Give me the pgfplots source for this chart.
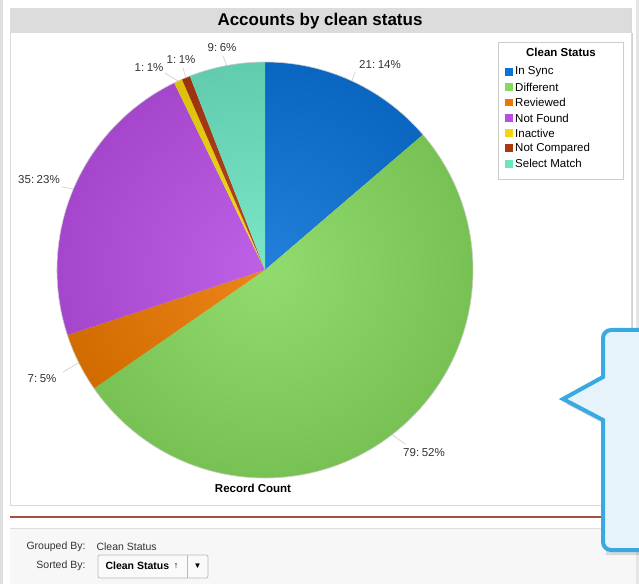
\documentclass[border=0pt]{standalone}
\usepackage{pgfplots}
\pgfplotsset{compat=1.18}
\usepackage{pgfplotstable}
\usepackage{fontspec}
\setmainfont{Liberation Sans}

\definecolor{cInSync}{HTML}{0B72D6}
\definecolor{cDifferent}{HTML}{86D85E}
\definecolor{cReviewed}{HTML}{EA7800}
\definecolor{cNotFound}{HTML}{B84FE4}
\definecolor{cInactive}{HTML}{F4D70B}
\definecolor{cNotCompared}{HTML}{AE380E}
\definecolor{cSelectMatch}{HTML}{6DE4C2}
\definecolor{cTitleBar}{HTML}{DCDCDC}
\definecolor{cRedLine}{HTML}{A2513F}
\definecolor{cBorder}{HTML}{39A9E1}
\definecolor{cFill}{HTML}{E6F3FB}
\definecolor{cText}{HTML}{333333}

\newcommand\lblfont{\fontsize{11.5}{13}\selectfont}
\newcommand\smfont{\fontsize{10.5}{12}\selectfont}

% label, value, colour, label centre (px), leader end (px)
\pgfplotstableread[col sep=comma]{
label,value,color,lx,ly,ex,ey
In Sync,21,cInSync,380,65,355,72
Different,79,cDifferent,424,453,405,444
Reviewed,7,cReviewed,42,379,63,372
Not Found,35,cNotFound,39,180,62,187
Inactive,1,cInactive,149,68,165,73
Not Compared,1,cNotCompared,181,60,183,68
Select Match,9,cSelectMatch,222,48,223,56
}\piedata

\begin{document}
\begin{tikzpicture}
\begin{axis}[width=639pt,height=584pt,scale only axis,
  xmin=0,xmax=639,ymin=0,ymax=584,hide axis,clip=false]
% background frame
\fill[white] (axis cs:0,0) rectangle (axis cs:639,584);
\fill[gray!25] (axis cs:0,0) rectangle (axis cs:2.5,584);
\fill[gray!20] (axis cs:636,0) rectangle (axis cs:639,584);
\draw[gray!30,line width=0.8pt] (axis cs:10,79) rectangle (axis cs:631,576);
\fill[cTitleBar] (axis cs:10,551) rectangle (axis cs:631,576);
\node[font=\fontsize{17}{19}\selectfont\bfseries,text=black] at (axis cs:320,563) {Accounts by clean status};
% bottom area
\fill[gray!6] (axis cs:10,0) rectangle (axis cs:636,56);
\draw[gray!30,line width=1pt] (axis cs:10,79) -- (axis cs:636,79);
\draw[cRedLine,line width=2.5pt] (axis cs:10,67) -- (axis cs:636,67);
\draw[gray!25,line width=1pt] (axis cs:10,56) -- (axis cs:636,56);
\node[font=\smfont,text=cText,anchor=east] at (axis cs:89,37) {Grouped By:};
\node[font=\smfont,text=cText,anchor=west] at (axis cs:93,37) {Clean Status};
\node[font=\smfont,text=cText,anchor=east] at (axis cs:89,18) {Sorted By:};
\draw[gray!55,fill=gray!4,rounded corners=2pt,line width=0.7pt] (axis cs:98,6) rectangle (axis cs:208,29);
\draw[gray!55,line width=0.7pt] (axis cs:187,6) -- (axis cs:187,29);
\node[font=\smfont\bfseries,text=black,anchor=west] at (axis cs:102,18) {Clean Status};
\node[font=\fontsize{9}{10}\selectfont,text=black] at (axis cs:176,18) {↑};
\node[font=\fontsize{8}{9}\selectfont,text=black] at (axis cs:197.5,18) {▼};
\node[font=\lblfont\bfseries,text=black] at (axis cs:253,96) {Record Count};
% total
\pgfplotstablegetrowsof{\piedata}
\pgfmathtruncatemacro\nrows{\pgfplotsretval-1}
\def\total{0}
\pgfplotsforeachungrouped \i in {0,...,\nrows}{%
  \pgfplotstablegetelem{\i}{value}\of\piedata
  \pgfmathsetmacro\total{\total+\pgfplotsretval}}
% slices, labels, legend
\def\cum{0}
\pgfplotsforeachungrouped \i in {0,...,\nrows}{%
  \pgfplotstablegetelem{\i}{value}\of\piedata\let\slv\pgfplotsretval
  \pgfplotstablegetelem{\i}{color}\of\piedata\let\slc\pgfplotsretval
  \pgfplotstablegetelem{\i}{label}\of\piedata\let\sll\pgfplotsretval
  \pgfplotstablegetelem{\i}{lx}\of\piedata\let\slx\pgfplotsretval
  \pgfplotstablegetelem{\i}{ly}\of\piedata\pgfmathsetmacro\sly{584-\pgfplotsretval}
  \pgfplotstablegetelem{\i}{ex}\of\piedata\let\sex\pgfplotsretval
  \pgfplotstablegetelem{\i}{ey}\of\piedata\pgfmathsetmacro\sey{584-\pgfplotsretval}
  \pgfmathsetmacro\fa{\cum/\total}
  \pgfmathsetmacro\fb{(\cum+\slv)/\total}
  \pgfmathsetmacro\sa{90-360*\fa}
  \pgfmathsetmacro\sb{90-360*\fb}
  \pgfmathsetmacro\sm{(\sa+\sb)/2}
  \pgfmathsetmacro\fp{\slv/\total}
  \pgfmathtruncatemacro\pct{round(100*\fp)}
  \pgfmathsetmacro\legy{584-72-15.3*\i}
  \edef\temp{%
    \noexpand\fill[\slc] (axis cs:265,314) -- ++(\sa:208pt) arc[start angle=\sa,end angle=\sb,radius=208pt] -- cycle;
    \noexpand\draw[gray!40,line width=0.6pt] (axis cs:265,314) ++(\sm:208pt) -- (axis cs:\sex,\sey);
    \noexpand\node[font=\noexpand\lblfont,text=cText] at (axis cs:\slx,\sly) {\slv:\noexpand\hspace{0.22em}\pct\noexpand\%};
    \noexpand\fill[\slc] (axis cs:505,\legy) ++(0pt,-3.8pt) rectangle ++(7.8pt,7.8pt);
    \noexpand\node[font=\noexpand\lblfont,text=black,anchor=west,inner sep=0pt] at (axis cs:515,\legy) {\sll};
  }\temp
  \pgfmathsetmacro\cum{\cum+\slv}
}
\shade[inner color=white,outer color=black,opacity=0.10] (axis cs:265,314) circle[radius=208pt];
\draw[gray!40,line width=0.6pt] (axis cs:265,314) circle[radius=208pt];
% legend box and title
\draw[gray!40,line width=0.8pt] (axis cs:498,405) rectangle (axis cs:623,542);
\node[font=\lblfont\bfseries,text=black] at (axis cs:561,532) {Clean Status};
\draw[gray!35,line width=0.8pt] (axis cs:632,79) -- (axis cs:632,551);
% callout
\fill[black,opacity=0.12] (axis cs:639,249) -- (axis cs:606,249) -- (axis cs:606,202) -- (axis cs:566,180) -- (axis cs:606,159) -- (axis cs:606,29) -- (axis cs:639,29) -- cycle;
\draw[line width=4pt,draw=cBorder,fill=cFill,line join=miter]
  (axis cs:639,254) [rounded corners=8pt] -- (axis cs:603,254) [sharp corners] -- (axis cs:603,207) -- (axis cs:563,185) -- (axis cs:603,164) [rounded corners=8pt] -- (axis cs:603,34) -- (axis cs:639,34);
\end{axis}
\pgfresetboundingbox
\path[use as bounding box] (current axis.south west) rectangle (current axis.north east);
\end{tikzpicture}
\end{document}
